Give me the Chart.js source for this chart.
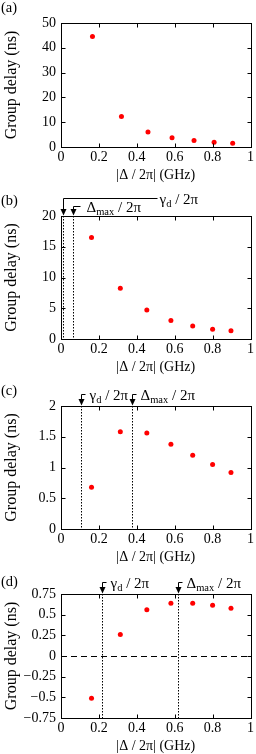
<!DOCTYPE html>
<html><head><meta charset="utf-8">
<script src="https://cdn.jsdelivr.net/npm/chart.js@4.4.1/dist/chart.umd.min.js"></script>
<style>
html,body{margin:0;padding:0;background:#fff;overflow:hidden;width:256px;height:754px;position:relative;}
canvas{position:absolute;left:0;}
</style></head><body>
<canvas id="ca" width="256" height="186" style="top:0px"></canvas>
<canvas id="cb" width="256" height="193" style="top:185px"></canvas>
<canvas id="cc" width="256" height="192" style="top:376px"></canvas>
<canvas id="cd" width="256" height="193" style="top:564px"></canvas>
<script>
// ---- data ----
const detuningA = [0.166, 0.319, 0.459, 0.586, 0.702, 0.808, 0.906];
const detuning  = [0.161, 0.313, 0.453, 0.580, 0.695, 0.800, 0.897];
const delayA = [44.6, 12.3, 6.0, 3.7, 2.6, 1.95, 1.55];
const delayB = [16.5, 8.25, 4.7, 3.0, 2.12, 1.6, 1.33];
const delayC = [0.68, 1.58, 1.56, 1.38, 1.20, 1.05, 0.92];
const delayD = [-0.51, 0.26, 0.56, 0.637, 0.637, 0.613, 0.578];
const xTicks = [0, 0.2, 0.4, 0.6, 0.8, 1];
const xTickLabels = ['0', '0.2', '0.4', '0.6', '0.8', '1'];
const yTicksA = [0, 10, 20, 30, 40, 50];
const yTicksB = [0, 5, 10, 15, 20];
const yTicksC = [0, 0.5, 1, 1.5, 2];
const yTickLabelsC = ['0', '0.5', '1', '1.5', '2'];
const yTicksD = [-0.75, -0.5, -0.25, 0, 0.25, 0.5, 0.75];
const yTickLabelsD = ['\u22120.75', '\u22120.5', '\u22120.25', '0', '0.25', '0.5', '0.75'];
// marker positions [gamma_d/2pi, Delta_max/2pi]
const markerB = [0.012, 0.063];
const markerC = [0.108, 0.375];
const markerD = [0.214, 0.615];
const panelLabels = ['(a)', '(b)', '(c)', '(d)'];
const xTitle = '|\u0394 / 2\u03c0| (GHz)';
const yTitle = 'Group delay (ns)';

const SERIF = '"Liberation Serif", Tinos, "Times New Roman", Times, serif';

const decoPlugin = {
  id: 'deco',
  afterDraw(chart, args, opts) {
    const ctx = chart.ctx;
    const a = chart.chartArea;
    const xs = chart.scales.x, ys = chart.scales.y;
    ctx.save();
    if (opts.zeroLine) {
      const y0 = Math.round(ys.getPixelForValue(0)) + 0.5;
      ctx.strokeStyle = '#000'; ctx.lineWidth = 1; ctx.setLineDash([6, 4]);
      ctx.beginPath(); ctx.moveTo(a.left, y0); ctx.lineTo(a.right, y0); ctx.stroke();
      ctx.setLineDash([]);
    }
    ctx.strokeStyle = '#000'; ctx.lineWidth = 1;
    const L = Math.round(a.left) + 0.5, R = Math.round(a.right) + 0.5;
    const T = Math.round(a.top) + 0.5, B = Math.round(a.bottom) + 0.5;
    ctx.strokeRect(L, T, R - L, B - T);
    ctx.beginPath();
    xs.ticks.forEach(t => {
      const px = Math.round(xs.getPixelForValue(t.value)) + 0.5;
      if (px <= L + 1 || px >= R - 1) return;
      ctx.moveTo(px, B); ctx.lineTo(px, B - 4);
      ctx.moveTo(px, T); ctx.lineTo(px, T + 4);
    });
    ys.ticks.forEach(t => {
      const py = Math.round(ys.getPixelForValue(t.value)) + 0.5;
      if (py <= T + 1 || py >= B - 1) return;
      ctx.moveTo(L, py); ctx.lineTo(L + 4, py);
      ctx.moveTo(R, py); ctx.lineTo(R - 4, py);
    });
    ctx.stroke();
    ctx.fillStyle = '#000';
    ctx.font = '14.5px ' + SERIF;
    ctx.textBaseline = 'middle'; ctx.textAlign = 'left';
    ctx.fillText(opts.label, 1, a.top - opts.labelRise);
    (opts.markers || []).forEach(m => {
      const px = Math.round(xs.getPixelForValue(m.x)) + 0.5;
      ctx.strokeStyle = '#000'; ctx.lineWidth = 1; ctx.setLineDash([1.5, 1.5]);
      ctx.beginPath(); ctx.moveTo(px, a.top); ctx.lineTo(px, a.bottom); ctx.stroke();
      ctx.setLineDash([]);
      const yb = Math.round(a.top - m.rise) + 0.5;
      ctx.beginPath();
      ctx.moveTo(px, a.top - 6); ctx.lineTo(px, yb); ctx.lineTo(px + m.hlen, yb);
      ctx.stroke();
      ctx.beginPath();
      ctx.moveTo(px - 3, a.top - 7); ctx.lineTo(px + 3, a.top - 7); ctx.lineTo(px, a.top - 0.5);
      ctx.closePath(); ctx.fill();
      let tx = px + m.hlen + m.gap;
      const base = yb + 5;
      ctx.textBaseline = 'alphabetic'; ctx.textAlign = 'left';
      ctx.font = '15px ' + SERIF;
      ctx.fillText(m.sym, tx, base); tx += ctx.measureText(m.sym).width;
      ctx.font = '10.5px ' + SERIF;
      ctx.fillText(m.sub, tx, base + 3); tx += ctx.measureText(m.sub).width;
      ctx.font = '15px ' + SERIF;
      ctx.fillText(' / 2\u03c0', tx, base);
    });
    ctx.restore();
  }
};

function makeChart(id, xData, yData, yTicks, yLabels, padTop, decoOpts) {
  const pts = xData.map((x, i) => ({x: x, y: yData[i]}));
  return new Chart(document.getElementById(id), {
    type: 'scatter',
    data: {datasets: [{data: pts, pointRadius: 2.5, pointHoverRadius: 2.5,
      backgroundColor: '#ff0000', borderWidth: 0, pointBorderWidth: 0}]},
    options: {
      responsive: false, animation: false, devicePixelRatio: 1,
      layout: {padding: {top: padTop, left: 0, right: 4, bottom: 2}},
      plugins: {legend: {display: false}, tooltip: {enabled: false}, deco: decoOpts},
      scales: {
        x: {
          type: 'linear', min: xTicks[0], max: xTicks[xTicks.length - 1],
          afterBuildTicks: s => { s.ticks = xTicks.map(v => ({value: v})); },
          afterFit: s => { s.height = 37; },
          grid: {display: false, drawTicks: false},
          border: {display: false},
          ticks: {padding: 2, color: '#000', font: {family: SERIF, size: 14},
            maxRotation: 0, autoSkip: false,
            callback: (v, i) => xTickLabels[i]},
          title: {display: true, text: xTitle, color: '#000',
            font: {family: SERIF, size: 14}, padding: {top: 0, bottom: 0}}
        },
        y: {
          type: 'linear', min: yTicks[0], max: yTicks[yTicks.length - 1],
          afterBuildTicks: s => { s.ticks = yTicks.map(v => ({value: v})); },
          afterFit: s => { s.width = 61; },
          grid: {display: false, drawTicks: false},
          border: {display: false},
          ticks: {padding: 5, color: '#000', font: {family: SERIF, size: 14},
            autoSkip: false, callback: (v, i) => yLabels[i]},
          title: {display: true, text: yTitle, color: '#000',
            font: {family: SERIF, size: 16}, padding: {top: 2, bottom: 0}}
        }
      }
    },
    plugins: [decoPlugin]
  });
}

function build() {
  makeChart('ca', detuningA, delayA, yTicksA, yTicksA.map(String), 23,
    {label: panelLabels[0], labelRise: 14.5, markers: []});
  makeChart('cb', detuning, delayB, yTicksB, yTicksB.map(String), 31,
    {label: panelLabels[1], labelRise: 14.5, markers: [
      {x: markerB[0], sym: '\u03b3', sub: 'd', rise: 18, hlen: 94, gap: 2},
      {x: markerB[1], sym: '\u0394', sub: 'max', rise: 10, hlen: 7, gap: 6}]});
  makeChart('cc', detuning, delayC, yTicksC, yTickLabelsC, 30,
    {label: panelLabels[2], labelRise: 14.5, markers: [
      {x: markerC[0], sym: '\u03b3', sub: 'd', rise: 12, hlen: 4, gap: 4},
      {x: markerC[1], sym: '\u0394', sub: 'max', rise: 12, hlen: 4, gap: 4}]});
  makeChart('cd', detuning, delayD, yTicksD, yTickLabelsD, 30,
    {label: panelLabels[3], labelRise: 11.5, zeroLine: true, markers: [
      {x: markerD[0], sym: '\u03b3', sub: 'd', rise: 12, hlen: 4, gap: 4},
      {x: markerD[1], sym: '\u0394', sub: 'max', rise: 12, hlen: 4, gap: 4}]});
}
if (document.fonts && document.fonts.load) {
  document.fonts.load('14px "Liberation Serif"').then(build, build);
} else { build(); }
</script>
</body></html>
